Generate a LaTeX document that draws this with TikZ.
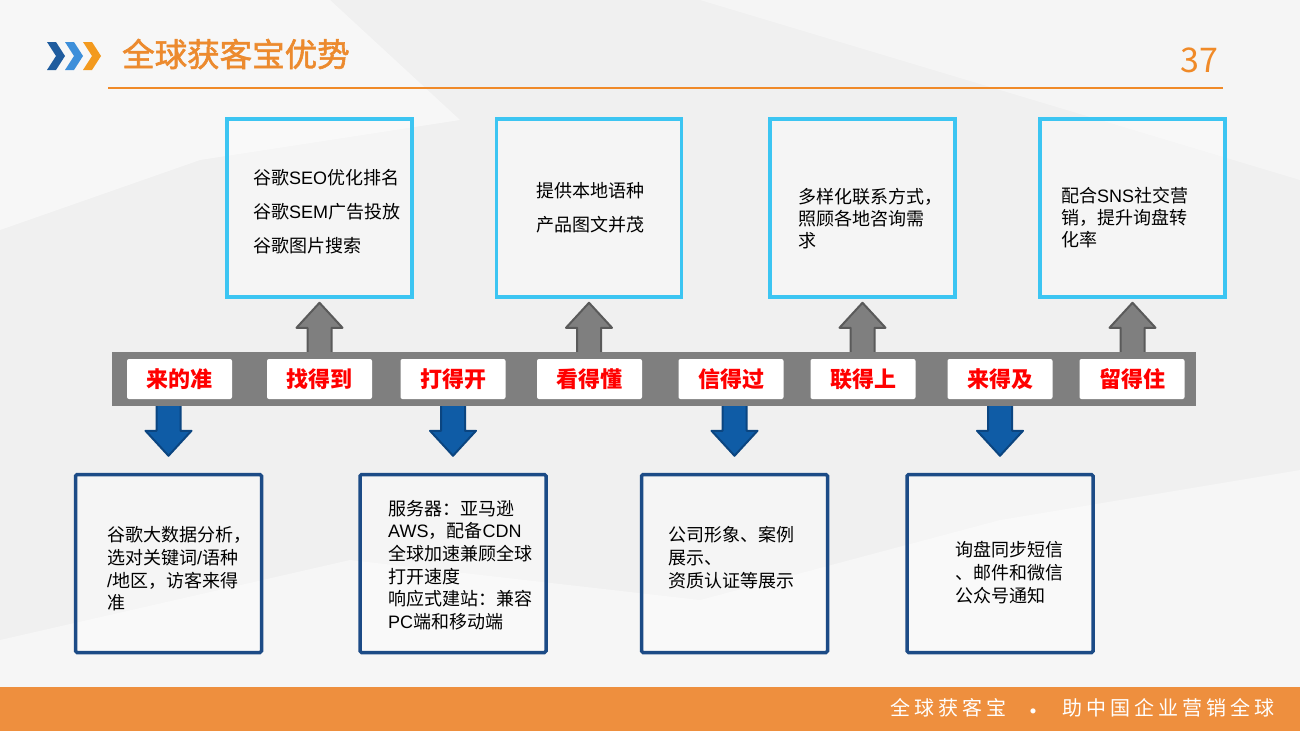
\documentclass[tikz,border=0pt]{standalone}
\usepackage{fontspec}
\setmainfont{Noto Sans CJK SC}
\newfontfamily\latinf{Liberation Sans}
\newcommand\La[1]{{\latinf #1}}
\usetikzlibrary{calc}
\definecolor{bgc}{HTML}{F0F0F0}
\definecolor{orangeT}{HTML}{EC8A2E}
\definecolor{orangeL}{HTML}{F08A28}
\definecolor{footc}{HTML}{EE8F3E}
\definecolor{lblue}{HTML}{3CC5F2}
\definecolor{dblue}{HTML}{1C4B86}
\definecolor{grayF}{HTML}{7F7F7F}
\definecolor{grayD}{HTML}{5A5A5A}
\definecolor{blueF}{HTML}{0F5CA6}
\definecolor{blueD}{HTML}{0B4580}
\definecolor{chevA}{HTML}{1F5C9E}
\definecolor{chevB}{HTML}{3D8FDA}
\definecolor{chevC}{HTML}{F39A1E}
\definecolor{redT}{HTML}{FF0000}
\pgfdeclarelayer{bglayer}
\pgfdeclarelayer{arrlayer}
\pgfsetlayers{bglayer,arrlayer,main}
\tikzset{
  topbox/.style={draw=lblue, line width=3.5, fill=white, fill opacity=0.35, text opacity=1, minimum width=185, minimum height=178, inner sep=0},
  botbox/.style={draw=dblue, line width=3.5, rounded corners=1.5, fill=white, fill opacity=0.35, text opacity=1, minimum width=186, minimum height=178, inner sep=0},
  bodytxt/.style={anchor=west, align=left, inner sep=0, text=black},
  lbl/.style={fill=white, rounded corners=2, minimum width=105, minimum height=40, inner sep=0, text=redT, font=\fontsize{22}{22}\selectfont\bfseries},
  uparr/.style={fill=grayF, draw=grayD, line width=2, line join=round},
  downarr/.style={fill=blueF, draw=blueD, line width=2, line join=round},
}
\newcommand\upArr[1]{%
  \draw[uparr] ($(#1.south |- bar.north)+(-12,2)$) -- ($(#1.south)+(-12,29)$) -- ($(#1.south)+(-23,29)$) -- ($(#1.south)+(0,4)$) -- ($(#1.south)+(23,29)$) -- ($(#1.south)+(12,29)$) -- ($(#1.south |- bar.north)+(12,2)$) -- cycle;}
\newcommand\downArr[1]{%
  \draw[downarr] ($(#1.north |- bar.south)+(-12,-2)$) -- ($(#1.north)+(-12,-42)$) -- ($(#1.north)+(-23,-42)$) -- ($(#1.north)+(0,-17)$) -- ($(#1.north)+(23,-42)$) -- ($(#1.north)+(12,-42)$) -- ($(#1.north |- bar.south)+(12,-2)$) -- cycle;}
\begin{document}
\begin{tikzpicture}[x=1pt,y=-1pt]
\useasboundingbox (0,0) rectangle (1300,731);
\begin{pgfonlayer}{bglayer}
  \fill[bgc] (0,0) rectangle (1300,731);
  \fill[white, opacity=0.5] (0,0) -- (330,0) -- (460,120) -- (200,160) -- (0,230) -- cycle;
  \fill[white, opacity=0.4] (0,640) -- (350,560) -- (700,600) -- (1000,520) -- (1300,470) -- (1300,687) -- (0,687) -- cycle;
  \fill[white, opacity=0.35] (700,0) -- (1300,0) -- (1300,180) -- (1000,90) -- cycle;
  \fill[footc] (0,687) rectangle (1300,731);
\end{pgfonlayer}

% header
\fill[chevA] (47,42) -- (56,42) -- (65,56) -- (56,70) -- (47,70) -- (56,56) -- cycle;
\fill[chevB] (65,42) -- (74,42) -- (83,56) -- (74,70) -- (65,70) -- (74,56) -- cycle;
\fill[chevC] (83,42) -- (92,42) -- (101,56) -- (92,70) -- (83,70) -- (92,56) -- cycle;
\node[anchor=west, inner sep=0, text=orangeT, font=\fontsize{32.5}{32.5}\selectfont\addfontfeature{FakeBold=1.8}] (title) at (122,54) {全球获客宝优势};
\node[inner sep=0, text=orangeL, font=\fontsize{34}{34}\selectfont] (pnum) at (1199,60) {37};
\draw[orangeL, line width=1.6] (108,88) -- (1223,88);

% top boxes
\node[topbox] (t1) at (319.5,208) {};
\node[topbox] (t2) at (589,208) {};
\node[topbox] (t3) at (862.5,208) {};
\node[topbox] (t4) at (1132.5,208) {};
\node[bodytxt, font=\fontsize{18}{34}\selectfont] (t1x) at (253,212) {谷歌\La{SEO}优化排名\\谷歌\La{SEM}广告投放\\谷歌图片搜索};
\node[bodytxt, font=\fontsize{18}{34}\selectfont] (t2x) at (536,208) {提供本地语种\\产品图文并茂};
\node[bodytxt, font=\fontsize{18}{22}\selectfont] (t3x) at (798,219) {多样化联系方式，\\照顾各地咨询需\\求};
\node[bodytxt, font=\fontsize{18}{22}\selectfont] (t4x) at (1061,218) {配合\La{SNS}社交营\\销，提升询盘转\\化率};

% bottom boxes
\node[botbox] (b1) at (168.5,563.5) {};
\node[botbox] (b2) at (453,563.5) {};
\node[botbox] (b3) at (734.5,563.5) {};
\node[botbox] (b4) at (1000,563.5) {};
\node[bodytxt, font=\fontsize{18}{22.7}\selectfont] (b1x) at (107,569) {谷歌大数据分析，\\选对关键词\La{/}语种\\\La{/}地区，访客来得\\准};
\node[bodytxt, font=\fontsize{18}{22.7}\selectfont] (b2x) at (388,565) {服务器：亚马逊\\\La{AWS}，配备\La{CDN}\\全球加速兼顾全球\\打开速度\\响应式建站：兼容\\\La{PC}端和移动端};
\node[bodytxt, font=\fontsize{18}{22.7}\selectfont] (b3x) at (668,557.5) {公司形象、案例\\展示、\\资质认证等展示};
\node[bodytxt, font=\fontsize{18}{22.7}\selectfont] (b4x) at (955,572.5) {询盘同步短信\\、邮件和微信\\公众号通知};

% bar and labels
\node[fill=grayF, minimum width=1084, minimum height=54, inner sep=0] (bar) at (654,379) {};
\node[lbl] (l1) at (179.5,379) {来的准};
\node[lbl] (l2) at (319.5,379) {找得到};
\node[lbl] (l3) at (453,379) {打得开};
\node[lbl] (l4) at (589.5,379) {看得懂};
\node[lbl] (l5) at (731,379) {信得过};
\node[lbl] (l6) at (863,379) {联得上};
\node[lbl] (l7) at (1000,379) {来得及};
\node[lbl] (l8) at (1132,379) {留得住};

% arrows
\begin{pgfonlayer}{arrlayer}
  \upArr{t1}\upArr{t2}\upArr{t3}\upArr{t4}
  \downArr{b1}\downArr{b2}\downArr{b3}\downArr{b4}
\end{pgfonlayer}

% footer
\node[anchor=west, inner sep=0, text=white, font=\fontsize{20}{20}\selectfont\addfontfeature{LetterSpace=20}] (f1) at (890,708) {全球获客宝};
\node[inner sep=0, text=white, font=\fontsize{24}{24}\selectfont] (fdot) at (1033,715) {•};
\node[anchor=west, inner sep=0, text=white, font=\fontsize{20}{20}\selectfont\addfontfeature{LetterSpace=20}] (f2) at (1062,708) {助中国企业营销全球};
\end{tikzpicture}
\end{document}
